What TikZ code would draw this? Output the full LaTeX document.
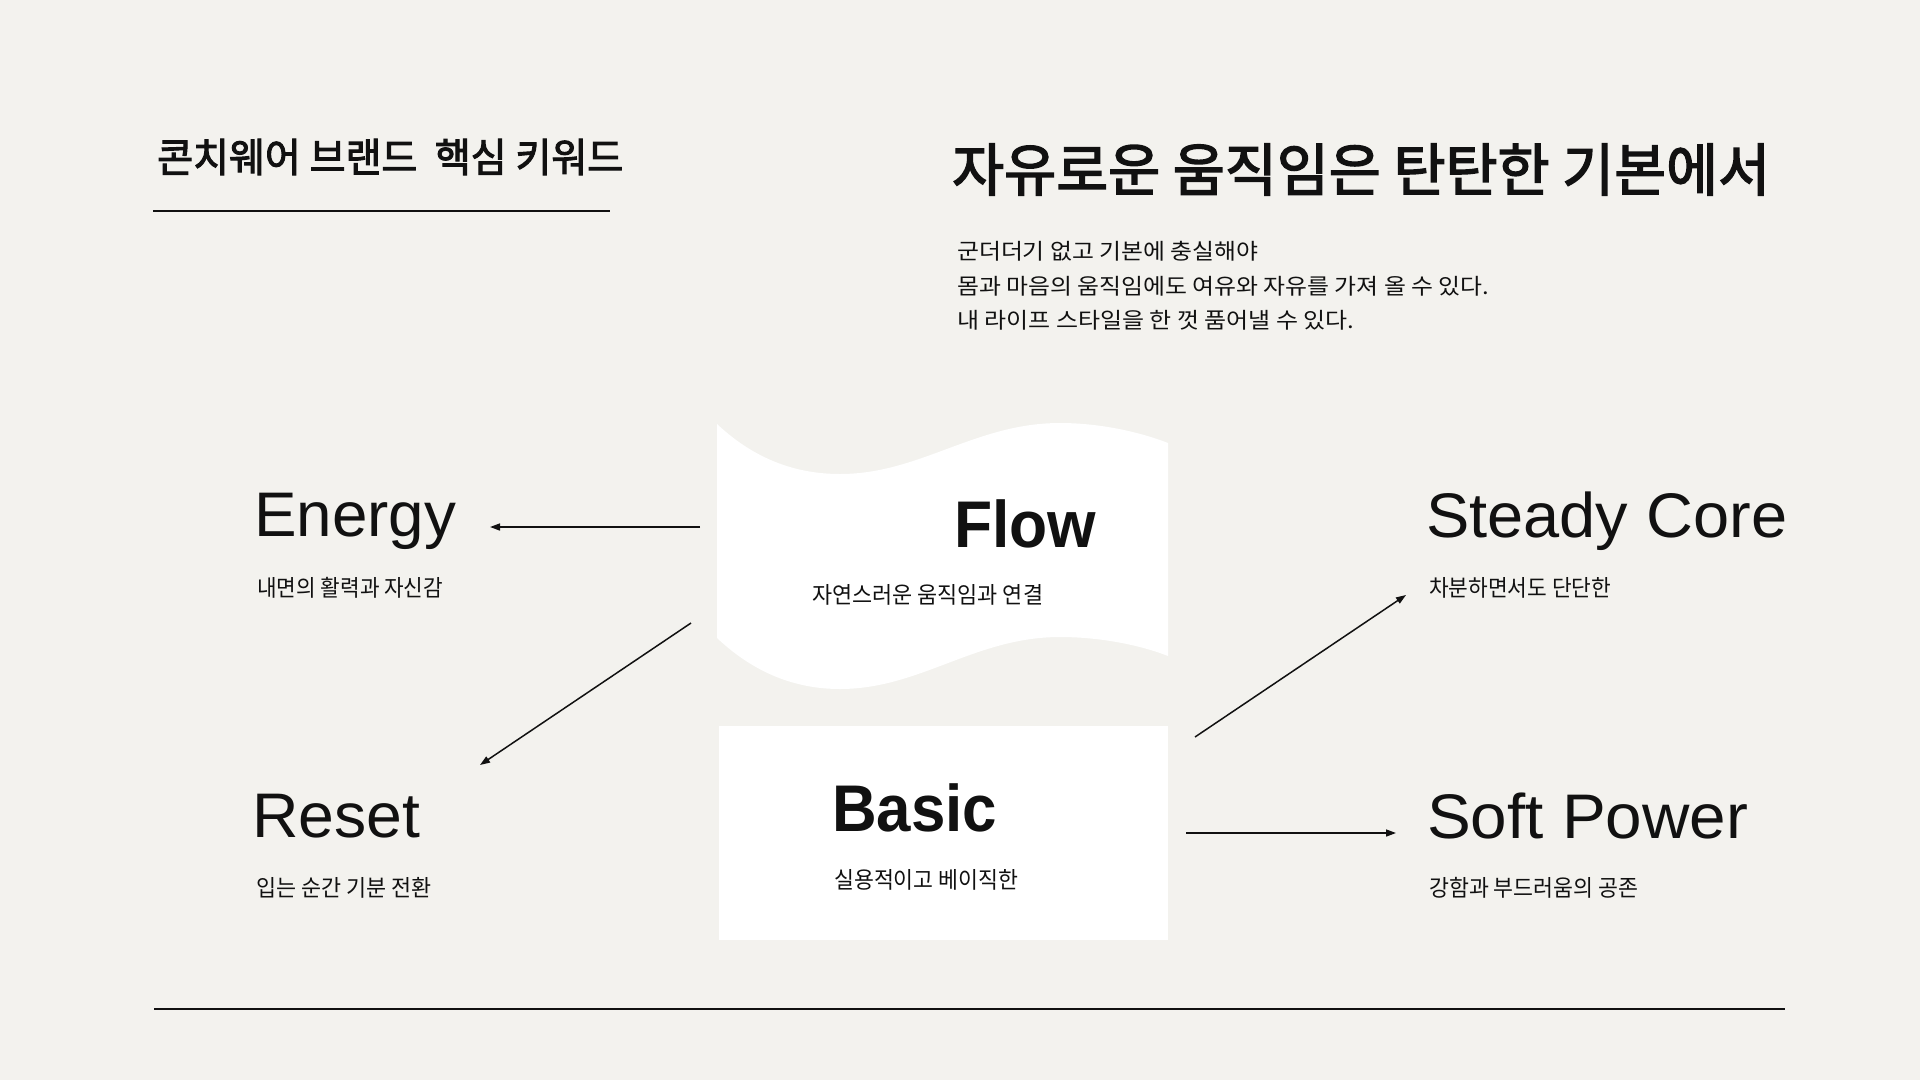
\documentclass[tikz,border=0pt]{standalone}
\usepackage{fontspec}
\usepackage{graphicx}
\usetikzlibrary{arrows.meta}
\setmainfont{Liberation Sans}
\newfontfamily\kr{Noto Sans CJK KR}
\newfontfamily\krmed{Noto Sans CJK KR}[FakeBold=2.6]
\definecolor{bg}{HTML}{F3F2EE}
\definecolor{ink}{HTML}{111111}
\newsavebox\fitbox
\newcommand\fitw[2]{\sbox\fitbox{#2}\pgfmathsetmacro\fitsx{#1/\the\wd\fitbox}\scalebox{\fitsx}[1]{\usebox\fitbox}}
\tikzset{
  big/.style={anchor=base west, inner sep=0pt, text=ink, font=\fontsize{63}{70}\selectfont},
  bigb/.style={anchor=base west, inner sep=0pt, text=ink, font=\bfseries\fontsize{66}{72}\selectfont},
  sub/.style={anchor=west, inner sep=0pt, text=ink, font=\kr\fontsize{23}{28}\selectfont},
  para/.style={anchor=west, inner sep=0pt, text=ink, font=\kr\fontsize{22}{26}\selectfont},
  arr/.style={draw=ink, line width=1.5pt, -{Triangle[length=10pt,width=7pt]}},
  rule/.style={draw=ink}
}
\begin{document}
\begin{tikzpicture}[x=1pt,y=-1pt]
\useasboundingbox (0,0) rectangle (1920,1080);
\fill[bg] (0,0) rectangle (1920,1080);

% header
\node[anchor=west, inner sep=0pt, text=ink, font=\krmed\fontsize{40}{46}\selectfont] (hdr) at (157,157) {\fitw{466}{콘치웨어 브랜드\ \ 핵심 키워드}};
\coordinate (hl1) at (153,211);
\coordinate (hl2) at (610,211);
\draw[rule, line width=2pt] (hl1) -- (hl2);

% title
\node[anchor=west, inner sep=0pt, text=ink, font=\krmed\fontsize{57}{64}\selectfont] (title) at (952,169.5) {\fitw{818}{자유로운 움직임은 탄탄한 기본에서}};
\node[para] (p1) at (957,251) {\fitw{301}{군더더기 없고 기본에 충실해야}};
\node[para] (p2) at (957,286) {\fitw{532}{몸과 마음의 움직임에도 여유와 자유를 가져 올 수 있다.}};
\node[para] (p3) at (957,320) {\fitw{397}{내 라이프 스타일을 한 껏 품어낼 수 있다.}};

% flow shape
\fill[white] (717,424) .. controls (750,455) and (790,474) .. (840,474)
  .. controls (920,474) and (975,423) .. (1060,423)
  .. controls (1100,423) and (1140,432) .. (1168,443)
  -- (1168,656)
  .. controls (1140,645) and (1100,637) .. (1060,637)
  .. controls (975,637) and (920,689) .. (840,689)
  .. controls (790,689) and (750,669) .. (717,638) -- cycle;
\node[bigb] (flow) at (954,547) {\fitw{142}{Flow}};
\node[sub] (flowsub) at (812,594.5) {\fitw{231}{자연스러운 움직임과 연결}};

% basic box
\fill[white] (719,726) rectangle (1168,940);
\node[bigb] (basic) at (832,831) {\fitw{165}{Basic}};
\node[sub] (basicsub) at (834,880) {\fitw{184}{실용적이고 베이직한}};

% left / right labels
\node[big] (energy) at (254,536) {\fitw{202}{Energy}};
\node[sub] (energysub) at (257,587.5) {\fitw{186}{내면의 활력과 자신감}};
\node[big] (steady) at (1426,537) {\fitw{361}{Steady Core}};
\node[sub] (steadysub) at (1429,588) {\fitw{182}{차분하면서도 단단한}};
\node[big] (reset) at (252,837) {\fitw{168}{Reset}};
\node[sub] (resetsub) at (256,888) {\fitw{175}{입는 순간 기분 전환}};
\node[big] (soft) at (1427,838) {\fitw{321}{Soft Power}};
\node[sub] (softsub) at (1429,887.5) {\fitw{209}{강함과 부드러움의 공존}};

% arrows
\coordinate (ea) at (700,527);
\coordinate (eb) at (490,527);
\coordinate (ra) at (691,623);
\coordinate (rb) at (480,765);
\coordinate (sa) at (1195,737);
\coordinate (sb) at (1406,595);
\coordinate (pa) at (1186,833);
\coordinate (pb) at (1396,833);
\draw[arr] (ea) -- (eb);
\draw[arr] (ra) -- (rb);
\draw[arr] (sa) -- (sb);
\draw[arr] (pa) -- (pb);

% bottom rule
\coordinate (bl1) at (154,1009);
\coordinate (bl2) at (1785,1009);
\draw[rule, line width=1.3pt] (bl1) -- (bl2);
\end{tikzpicture}
\end{document}
